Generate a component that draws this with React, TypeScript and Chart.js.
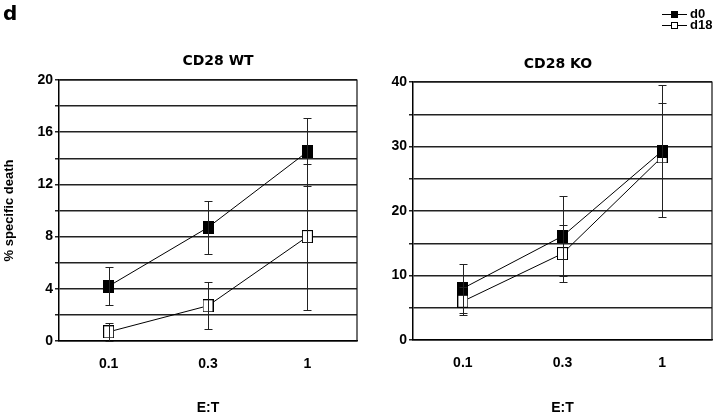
import React, { useEffect, useRef } from 'react';
import { Chart, registerables } from 'chart.js';

Chart.register(...registerables);

// ---------------- data ----------------
const categories = ['0.1', '0.3', '1'];
const seriesNames = ['d0', 'd18'];

const wtD0 = [4.2, 8.7, 14.5];
const wtD0Err = [1.45, 2.0, 2.6];
const wtD18 = [0.7, 2.7, 8.0];
const wtD18Err = [0.7, 1.8, 5.6];

const koD0 = [8.0, 16.1, 29.3];
const koD0Err = [3.8, 6.2, 10.3];
const koD18 = [6.0, 13.4, 28.4];
const koD18Err = [2.2, 4.4, 8.3];

const wtMax = 20;
const wtGridStep = 2;
const wtLabelStep = 4;
const koMax = 40;
const koGridStep = 5;
const koLabelStep = 10;

const panelTitles = ['CD28 WT', 'CD28 KO'];
const yAxisTitle = '% specific death';
const xAxisTitle = 'E:T';
const figureLetter = 'd';

// ---------------- helpers ----------------
function makeMarker(fill: string, w: number, h: number): HTMLCanvasElement {
  const c = document.createElement('canvas');
  c.width = w;
  c.height = h;
  const g = c.getContext('2d')!;
  g.fillStyle = fill;
  g.fillRect(0, 0, w, h);
  g.strokeStyle = '#000';
  g.lineWidth = 1;
  g.strokeRect(0.5, 0.5, w - 1, h - 1);
  return c;
}

const errorBarPlugin = {
  id: 'errorBars',
  afterDatasetsDraw(chart: any) {
    const { ctx } = chart;
    const ys = chart.scales.y;
    ctx.save();
    ctx.strokeStyle = '#222';
    ctx.lineWidth = 1;
    chart.data.datasets.forEach((ds: any, i: number) => {
      const meta = chart.getDatasetMeta(i);
      meta.data.forEach((pt: any, j: number) => {
        const v = ds.data[j];
        const e = ds.errors[j];
        const x = Math.round(pt.x) + 0.5;
        const yt = Math.round(ys.getPixelForValue(v + e)) + 0.5;
        const yb = Math.round(ys.getPixelForValue(v - e)) + 0.5;
        ctx.beginPath();
        ctx.moveTo(x, yt);
        ctx.lineTo(x, yb);
        ctx.moveTo(x - 4, yt);
        ctx.lineTo(x + 4, yt);
        ctx.moveTo(x - 4, yb);
        ctx.lineTo(x + 4, yb);
        ctx.stroke();
      });
    });
    ctx.restore();
  },
};

const framePlugin = {
  id: 'frame',
  afterDraw(chart: any) {
    const { ctx, chartArea: a } = chart;
    ctx.save();
    ctx.strokeStyle = '#111';
    ctx.lineWidth = 1.2;
    ctx.beginPath();
    ctx.moveTo(a.left, a.top);
    ctx.lineTo(a.right, a.top);
    ctx.lineTo(a.right, a.bottom);
    ctx.stroke();
    ctx.restore();
  },
};

type PanelProps = {
  left: number;
  width: number;
  d0: number[];
  d0Err: number[];
  d18: number[];
  d18Err: number[];
  max: number;
  gridStep: number;
  labelStep: number;
  showYTitle: boolean;
  yWidth: number;
  padTop: number;
  padRight: number;
  xHeight: number;
};

function Panel(p: PanelProps) {
  const ref = useRef<HTMLCanvasElement>(null);
  useEffect(() => {
    const canvas = ref.current!;
    const filled = makeMarker('#000', 11, 13);
    const open = makeMarker('#fff', 11, 13);
    const tickFont = { family: 'Liberation Sans, Arial, sans-serif', size: 14, weight: 'bold' as const };
    const titleFont = { family: 'Liberation Sans, Arial, sans-serif', size: 13, weight: 'bold' as const };
    const chart = new Chart(canvas, {
      type: 'line',
      data: {
        labels: categories,
        datasets: [
          {
            label: seriesNames[0],
            data: p.d0,
            errors: p.d0Err,
            borderColor: '#000',
            borderWidth: 1,
            pointStyle: filled,
            pointRadius: 7,
            tension: 0,
          } as any,
          {
            label: seriesNames[1],
            data: p.d18,
            errors: p.d18Err,
            borderColor: '#000',
            borderWidth: 1,
            pointStyle: open,
            pointRadius: 7,
            tension: 0,
          } as any,
        ],
      },
      options: {
        animation: false,
        responsive: false,
        events: [],
        layout: { padding: { top: p.padTop, right: p.padRight, left: 0, bottom: 0 } },
        plugins: { legend: { display: false }, tooltip: { enabled: false }, title: { display: false } },
        scales: {
          x: {
            type: 'category',
            offset: true,
            grid: { display: false, drawTicks: false },
            border: { display: true, color: '#000', width: 1.5 },
            ticks: { color: '#000', font: tickFont, padding: 15, maxRotation: 0 },
            title: { display: true, text: xAxisTitle, color: '#000', font: tickFont, padding: { top: 0, bottom: 3 } },
            afterFit: (s: any) => {
              s.height = p.xHeight;
            },
          },
          y: {
            min: 0,
            max: p.max,
            grid: { color: '#222', lineWidth: 1.5, drawTicks: true, tickLength: 4 },
            border: { display: true, color: '#000', width: 1.5 },
            ticks: {
              stepSize: p.gridStep,
              color: '#000',
              font: tickFont,
              padding: 2,
              callback: (v: any) => (Number(v) % p.labelStep === 0 ? String(v) : ''),
            },
            title: {
              display: p.showYTitle,
              text: yAxisTitle,
              color: '#000',
              font: titleFont,
              padding: { top: 2, bottom: 0 },
            },
            afterFit: (s: any) => {
              s.width = p.yWidth;
            },
          },
        },
      } as any,
      plugins: [errorBarPlugin, framePlugin],
    });
    return () => chart.destroy();
  }, []);
  return (
    <canvas
      ref={ref}
      width={p.width}
      height={420}
      style={{ position: 'absolute', left: p.left, top: 0, width: p.width, height: 420 }}
    />
  );
}

const titleStyle: React.CSSProperties = {
  position: 'absolute',
  width: 200,
  textAlign: 'center',
  font: 'bold 14px "DejaVu Sans", sans-serif',
  lineHeight: '16px',
  color: '#000',
};

const legendText: React.CSSProperties = {
  position: 'absolute',
  font: 'bold 13px "Liberation Sans", Arial, sans-serif',
  lineHeight: '14px',
  color: '#000',
};

function LegendMarker({ top, fill }: { top: number; fill: string }) {
  return (
    <>
      <div style={{ position: 'absolute', left: 662, top: top, width: 25, height: 1, background: '#000' }} />
      <div
        style={{
          position: 'absolute',
          left: 671,
          top: top - 3,
          width: 7,
          height: 7,
          boxSizing: 'border-box',
          background: fill,
          border: '1px solid #000',
        }}
      />
    </>
  );
}

export default function App() {
  return (
    <div
      style={{
        position: 'absolute',
        left: 0,
        top: 0,
        width: 720,
        height: 420,
        background: '#fff',
        overflow: 'hidden',
      }}
    >
      <Panel
        left={0}
        width={365}
        d0={wtD0}
        d0Err={wtD0Err}
        d18={wtD18}
        d18Err={wtD18Err}
        max={wtMax}
        gridStep={wtGridStep}
        labelStep={wtLabelStep}
        showYTitle={true}
        yWidth={59}
        padTop={80}
        padRight={4}
        xHeight={79}
      />
      <Panel
        left={365}
        width={355}
        d0={koD0}
        d0Err={koD0Err}
        d18={koD18}
        d18Err={koD18Err}
        max={koMax}
        gridStep={koGridStep}
        labelStep={koLabelStep}
        showYTitle={false}
        yWidth={48}
        padTop={82}
        padRight={5}
        xHeight={80}
      />
      <div
        style={{
          position: 'absolute',
          left: 3,
          top: 1,
          font: 'bold 20px "DejaVu Sans", sans-serif',
          lineHeight: '24px',
          color: '#000',
        }}
      >
        {figureLetter}
      </div>
      <div style={{ ...titleStyle, left: 118, top: 52 }}>{panelTitles[0]}</div>
      <div style={{ ...titleStyle, left: 458, top: 55 }}>{panelTitles[1]}</div>
      <LegendMarker top={14} fill="#000" />
      <div style={{ ...legendText, left: 690, top: 7 }}>{seriesNames[0]}</div>
      <LegendMarker top={25} fill="#fff" />
      <div style={{ ...legendText, left: 690, top: 18 }}>{seriesNames[1]}</div>
    </div>
  );
}
